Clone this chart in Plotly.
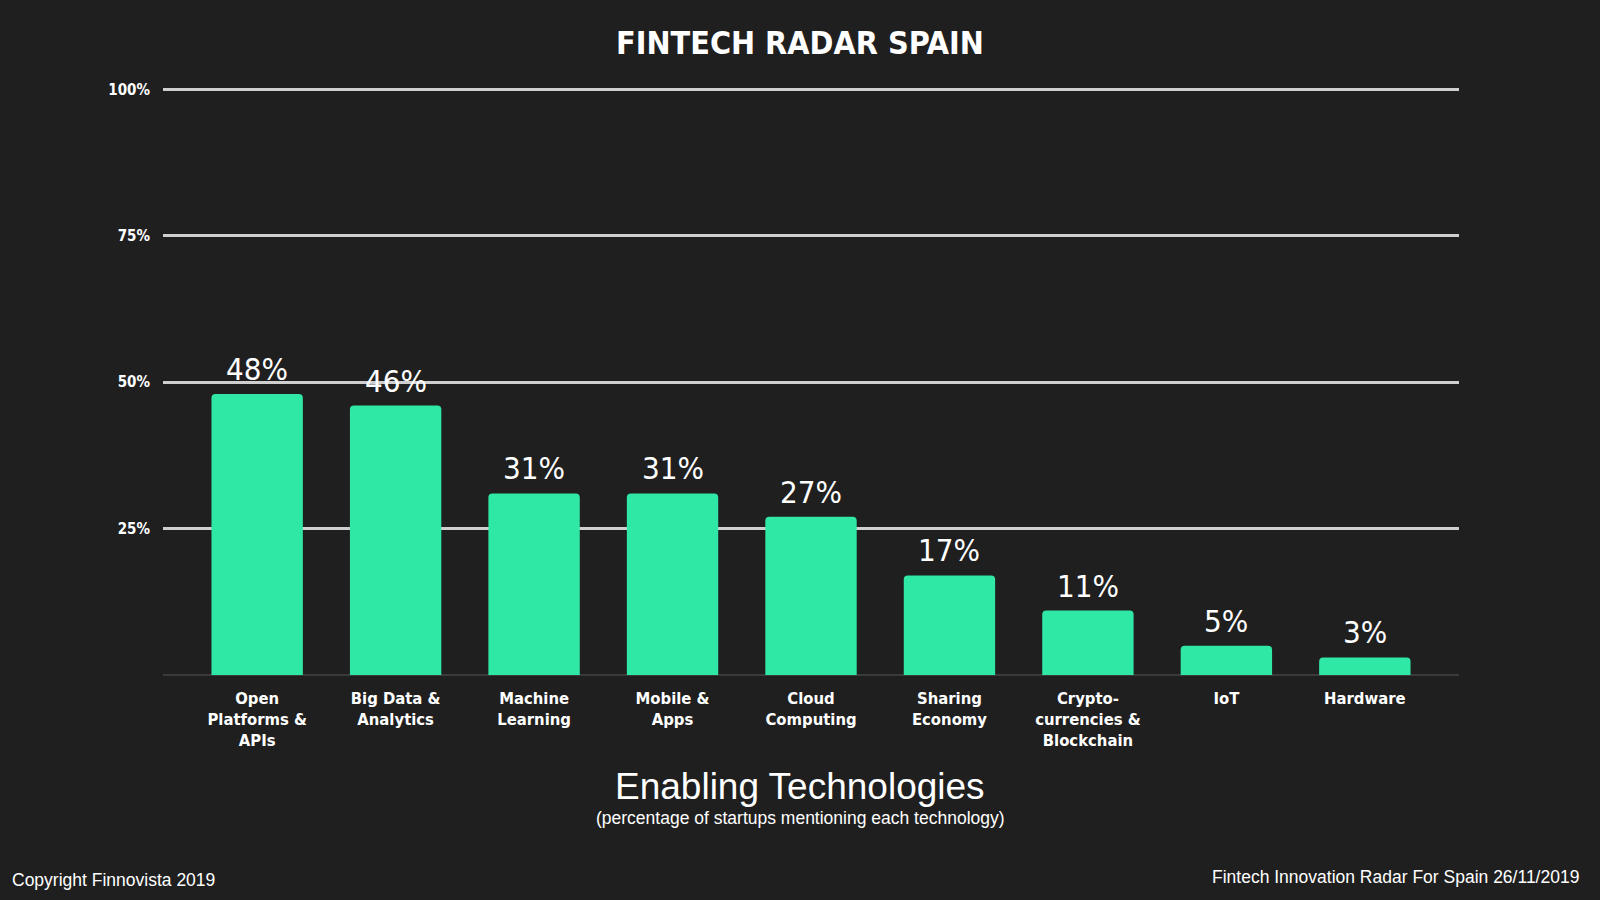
import plotly.graph_objects as go

categories = [
    "Open<br>Platforms &<br>APIs",
    "Big Data &<br>Analytics",
    "Machine<br>Learning",
    "Mobile &<br>Apps",
    "Cloud<br>Computing",
    "Sharing<br>Economy",
    "Crypto-<br>currencies &<br>Blockchain",
    "IoT",
    "Hardware",
]
values = [48, 46, 31, 31, 27, 17, 11, 5, 3]
value_labels = ["48%", "46%", "31%", "31%", "27%", "17%", "11%", "5%", "3%"]
y_tickvals = [25, 50, 75, 100]
y_ticktext = ["25%", "50%", "75%", "100%"]

BG = "#1f1f1f"
BAR = "#2fe8a6"
COND = "DejaVu Sans Condensed, Liberation Sans Narrow, sans-serif"
SANS = "Liberation Sans, Arial, sans-serif"

L, R, T, B = 163, 141, 87, 225
PW, PH = 1600 - L - R, 900 - T - B

fig = go.Figure()
fig.add_trace(go.Bar(
    x=list(range(len(categories))),
    y=values,
    marker=dict(color=BAR, line=dict(width=0), cornerradius=4),
    width=0.66,
    hoverinfo="skip",
))

for i, (v, lab) in enumerate(zip(values, value_labels)):
    fig.add_annotation(
        x=i, y=v, text=lab, showarrow=False,
        xanchor="center", yanchor="middle", yshift=25,
        font=dict(family=COND, size=31, color="white"),
    )

fig.update_layout(
    width=1600, height=900,
    paper_bgcolor=BG, plot_bgcolor=BG,
    margin=dict(l=L, r=R, t=T, b=B),
    showlegend=False,
    title=dict(
        text="<b>FINTECH RADAR SPAIN</b>",
        x=0.5, xanchor="center", xref="container",
        y=1 - 43 / 900, yanchor="middle", yref="container",
        font=dict(family=COND, size=32, color="white"),
    ),
    xaxis=dict(
        range=[-0.68, 8.68],
        tickvals=list(range(len(categories))),
        ticktext=["<b>" + c.replace("<br>", "</b><br><b>") + "</b>" for c in categories],
        tickfont=dict(family=COND, size=16.5, color="white"),
        showgrid=False, zeroline=False, showline=False,
        ticks="", ticklen=0, ticklabelstandoff=11,
        fixedrange=True,
    ),
    yaxis=dict(
        range=[0, 100.4],
        tickvals=y_tickvals,
        ticktext=["<b>" + t + "</b>" for t in y_ticktext],
        tickfont=dict(family=COND, size=15, color="white"),
        showgrid=True, gridcolor="#cfcfcf", gridwidth=3,
        zeroline=True, zerolinecolor="#3a3a3a", zerolinewidth=2,
        showline=False, ticks="", ticklabelstandoff=12,
        fixedrange=True,
    ),
    bargap=0.34,
)

cx = (800 - L) / PW
fig.add_annotation(
    text="Enabling Technologies", xref="paper", yref="paper",
    x=cx, y=-(786 - 675) / PH, xanchor="center", yanchor="middle",
    showarrow=False, font=dict(family=SANS, size=37, color="white"),
)
fig.add_annotation(
    text="(percentage of startups mentioning each technology)", xref="paper", yref="paper",
    x=cx, y=-(818 - 675) / PH, xanchor="center", yanchor="middle",
    showarrow=False, font=dict(family=SANS, size=17.5, color="white"),
)
fig.add_annotation(
    text="Copyright Finnovista 2019", xref="paper", yref="paper",
    x=-(L - 10) / PW, y=-(880 - 675) / PH, xanchor="left", yanchor="middle",
    showarrow=False, font=dict(family=SANS, size=17.5, color="white"),
)
fig.add_annotation(
    text="Fintech Innovation Radar For Spain 26/11/2019", xref="paper", yref="paper",
    x=1 + (1581 - (1600 - R)) / PW, y=-(877 - 675) / PH, xanchor="right", yanchor="middle",
    showarrow=False, font=dict(family=SANS, size=17.5, color="white"),
)

fig.write_html(
    "out.html",
    config={"displayModeBar": False},
    post_script="document.body.style.margin='0';document.body.style.background='#1f1f1f';document.body.style.overflow='hidden';",
)
